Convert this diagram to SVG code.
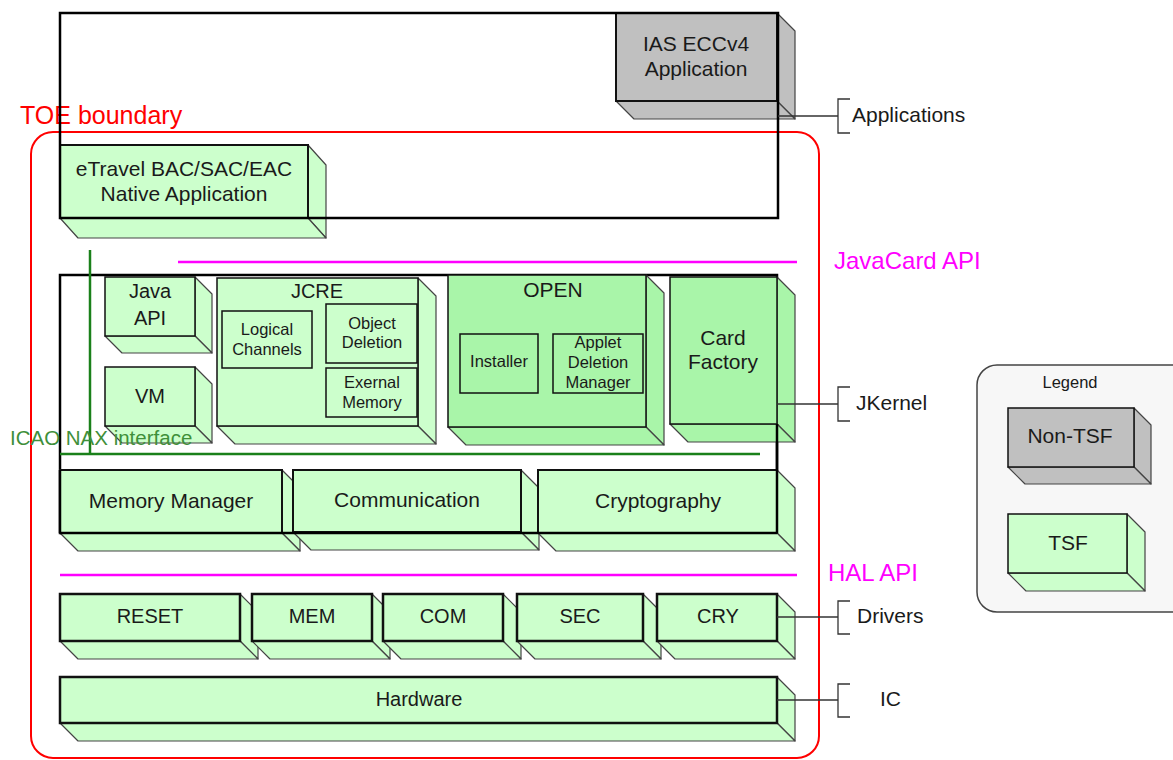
<svg xmlns="http://www.w3.org/2000/svg" width="1173" height="760" viewBox="0 0 1173 760">
<style>
text{font-family:"Liberation Sans",Arial,sans-serif;fill:#1a1a1a}
.c{text-anchor:middle}
.fr{fill:#ccffcc;stroke:#111;stroke-width:2}
.sd{fill:#ccffcc;stroke:#444;stroke-width:1.2;stroke-linejoin:round}
.b2 .fr,.b2 .sd{fill:#a9f5a9}
.gy .fr,.gy .sd{fill:#c0c0c0}
.in{fill:none;stroke:#111;stroke-width:1.5}
.frame{fill:none;stroke:#000;stroke-width:2.5}
.mag{stroke:#ff00ff;stroke-width:2.5}
.grn{stroke:#1a801a;stroke-width:2.5;fill:none}
.con{stroke:#333;stroke-width:1.3;fill:none}
.f21{font-size:21px}.f20{font-size:20px}.f17{font-size:16.5px}
</style>

<rect x="31" y="132" width="788" height="626" rx="22" fill="none" stroke="#ff0000" stroke-width="2"/>
<text x="20" y="124" font-size="25" style="fill:#ff0000">TOE boundary</text>

<g id="ias" class="gy">
<polygon class="sd" points="777,13 795,31 795,119 777,101"/>
<polygon class="sd" points="616,101 777,101 795,119 634,119"/>
<rect class="fr" x="616" y="13" width="161" height="88"/>
<text class="c f21" x="696" y="51">IAS ECCv4</text>
<text class="c f21" x="696" y="76">Application</text>
</g>

<g id="etravel">
<polygon class="sd" points="308,145 326,165 326,238 308,218"/>
<polygon class="sd" points="60,218 308,218 326,238 78,238"/>
<rect class="fr" x="60" y="145" width="248" height="73"/>
<text class="c f21" x="184" y="176">eTravel BAC/SAC/EAC</text>
<text class="c f21" x="184" y="201">Native Application</text>
</g>

<g id="frames">
<rect class="frame" x="60" y="13" width="718" height="205"/>
<rect class="frame" x="60" y="275" width="717" height="258"/>
</g>

<g id="javacard-api">
<line class="mag" x1="178" y1="262" x2="797" y2="262"/>
<text x="834" y="269" font-size="24" style="fill:#ff00ff">JavaCard API</text>
</g>

<g id="java-api">
<polygon class="sd" points="195,277 212,294 212,353 195,336"/>
<polygon class="sd" points="105,336 195,336 212,353 122,353"/>
<rect class="fr" x="105" y="277" width="90" height="59" style="stroke-width:1.5"/>
<text class="c f20" x="150" y="298">Java</text>
<text class="c f20" x="150" y="325">API</text>
</g>

<g id="vm">
<polygon class="sd" points="195,367 212,384 212,443 195,426"/>
<polygon class="sd" points="105,426 195,426 212,443 122,443"/>
<rect class="fr" x="105" y="367" width="90" height="59" style="stroke-width:1.5"/>
<text class="c f20" x="150" y="403">VM</text>
</g>

<g id="jcre">
<polygon class="sd" points="418,278 436,296 436,444 418,426"/>
<polygon class="sd" points="217,426 418,426 436,444 235,444"/>
<rect class="fr" x="217" y="278" width="201" height="148" style="stroke-width:1.5"/>
<text class="c f20" x="317" y="298">JCRE</text>
<rect class="in" x="222" y="311" width="90" height="57"/>
<text class="c f17" x="267" y="335">Logical</text>
<text class="c f17" x="267" y="355">Channels</text>
<rect class="in" x="326" y="304" width="91" height="59"/>
<text class="c f17" x="372" y="329">Object</text>
<text class="c f17" x="372" y="348">Deletion</text>
<rect class="in" x="326" y="368" width="91" height="49"/>
<text class="c f17" x="372" y="388">Exernal</text>
<text class="c f17" x="372" y="408">Memory</text>
</g>

<g id="open" class="b2">
<polygon class="sd" points="646,275 664,293 664,445 646,427"/>
<polygon class="sd" points="448,427 646,427 664,445 466,445"/>
<rect class="fr" x="448" y="275" width="198" height="152" style="stroke-width:1.5"/>
<text class="c f21" x="553" y="297">OPEN</text>
<rect class="in" x="460" y="334" width="78" height="59"/>
<text class="c f17" x="499" y="367">Installer</text>
<rect class="in" x="553" y="334" width="90" height="59"/>
<text class="c f17" x="598" y="348">Applet</text>
<text class="c f17" x="598" y="368">Deletion</text>
<text class="c f17" x="598" y="388">Manager</text>
</g>

<g id="card-factory" class="b2">
<polygon class="sd" points="777,277 795,295 795,442 777,424"/>
<polygon class="sd" points="670,424 777,424 795,442 688,442"/>
<rect class="fr" x="670" y="277" width="107" height="147" style="stroke-width:1.5"/>
<text class="c f21" x="723" y="345">Card</text>
<text class="c f21" x="723" y="369">Factory</text>
</g>

<g id="icao">
<polyline class="grn" points="90,250 90,454"/>
<line class="grn" x1="60" y1="454" x2="760" y2="454"/>
</g>

<g id="memory-manager">
<polygon class="sd" points="282,470 300,488 300,551 282,533"/>
<polygon class="sd" points="60,533 282,533 300,551 78,551"/>
<rect class="fr" x="60" y="470" width="222" height="63"/>
<text class="c f21" x="171" y="508">Memory Manager</text>
</g>
<g id="communication">
<polygon class="sd" points="521,470 539,488 539,550 521,532"/>
<polygon class="sd" points="293,532 521,532 539,550 311,550"/>
<rect class="fr" x="293" y="470" width="228" height="62"/>
<text class="c f21" x="407" y="507">Communication</text>
</g>
<g id="cryptography">
<polygon class="sd" points="777,470 795,488 795,551 777,533"/>
<polygon class="sd" points="538,533 777,533 795,551 556,551"/>
<rect class="fr" x="538" y="470" width="239" height="63"/>
<text class="c f21" x="658" y="508">Cryptography</text>
</g>

<line x1="60" y1="533" x2="777" y2="533" stroke="#000" stroke-width="2.5"/>
<line x1="60" y1="470" x2="60" y2="533" stroke="#000" stroke-width="2.5"/>
<line x1="777" y1="424" x2="777" y2="533" stroke="#000" stroke-width="2.5"/>

<g id="hal-api">
<line class="mag" x1="60" y1="575" x2="797" y2="575"/>
<text x="828" y="581" font-size="24" style="fill:#ff00ff">HAL API</text>
</g>

<g id="reset">
<polygon class="sd" points="240,594 258,612 258,659 240,641"/>
<polygon class="sd" points="60,641 240,641 258,659 78,659"/>
<rect class="fr" x="60" y="594" width="180" height="47" style="stroke-width:2.5"/>
<text class="c f20" x="150" y="623">RESET</text>
</g>
<g id="mem">
<polygon class="sd" points="372,594 390,612 390,659 372,641"/>
<polygon class="sd" points="252,641 372,641 390,659 270,659"/>
<rect class="fr" x="252" y="594" width="120" height="47" style="stroke-width:2.5"/>
<text class="c f20" x="312" y="623">MEM</text>
</g>
<g id="com">
<polygon class="sd" points="503,594 521,612 521,659 503,641"/>
<polygon class="sd" points="383,641 503,641 521,659 401,659"/>
<rect class="fr" x="383" y="594" width="120" height="47" style="stroke-width:2.5"/>
<text class="c f20" x="443" y="623">COM</text>
</g>
<g id="sec">
<polygon class="sd" points="643,594 661,612 661,659 643,641"/>
<polygon class="sd" points="517,641 643,641 661,659 535,659"/>
<rect class="fr" x="517" y="594" width="126" height="47" style="stroke-width:2.5"/>
<text class="c f20" x="580" y="623">SEC</text>
</g>
<g id="cry">
<polygon class="sd" points="777,594 795,612 795,659 777,641"/>
<polygon class="sd" points="657,641 777,641 795,659 675,659"/>
<rect class="fr" x="657" y="594" width="120" height="47" style="stroke-width:2.5"/>
<text class="c f20" x="718" y="623">CRY</text>
</g>

<g id="hardware">
<polygon class="sd" points="777,677 795,695 795,741 777,723"/>
<polygon class="sd" points="60,723 777,723 795,741 78,741"/>
<rect class="fr" x="60" y="677" width="717" height="46" style="stroke-width:2.5"/>
<text class="c f20" x="419" y="706">Hardware</text>
</g>

<text x="10" y="445" font-size="20.5" style="fill:#3f8f3a">ICAO NAX interface</text>

<g id="connectors">
<line class="con" x1="778" y1="116" x2="838" y2="116"/>
<polyline class="con" points="850,99 838,99 838,133 850,133"/>
<line class="con" x1="777" y1="404" x2="838" y2="404"/>
<polyline class="con" points="850,387 838,387 838,421 850,421"/>
<line class="con" x1="777" y1="617" x2="838" y2="617"/>
<polyline class="con" points="850,601 838,601 838,634 850,634"/>
<line class="con" x1="777" y1="700" x2="838" y2="700"/>
<polyline class="con" points="850,684 838,684 838,717 850,717"/>
</g>
<g id="labels">
<text x="852" y="122" font-size="21">Applications</text>
<text x="856" y="410" font-size="21">JKernel</text>
<text x="857" y="623" font-size="21">Drivers</text>
<text x="880" y="706" font-size="21">IC</text>
</g>

<g id="legend">
<rect x="977" y="365" width="215" height="247" rx="20" fill="#f7f7f7" stroke="#444" stroke-width="1.5"/>
<text class="c" x="1070" y="388" font-size="16.5">Legend</text>
<g id="legend-nontsf" class="gy">
<polygon class="sd" points="1134,408 1151,425 1151,484 1134,467"/>
<polygon class="sd" points="1008,467 1134,467 1151,484 1025,484"/>
<rect class="fr" x="1008" y="408" width="126" height="59" style="stroke-width:1.5"/>
<text class="c f21" x="1070" y="443">Non-TSF</text>
</g>
<g id="legend-tsf">
<polygon class="sd" points="1127,514 1145,532 1145,591 1127,573"/>
<polygon class="sd" points="1008,573 1127,573 1145,591 1026,591"/>
<rect class="fr" x="1008" y="514" width="119" height="59" style="stroke-width:1.5"/>
<text class="c f21" x="1068" y="550">TSF</text>
</g>
</g>
</svg>
